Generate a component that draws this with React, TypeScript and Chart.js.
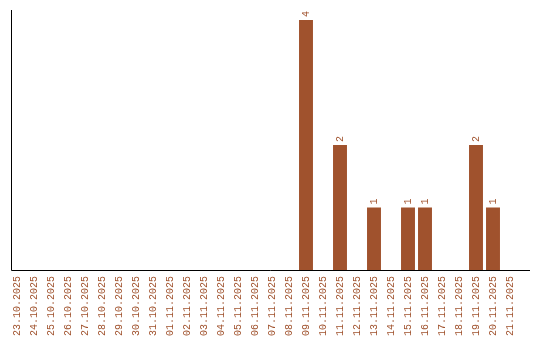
import React, { useEffect, useRef } from "react";
import { Chart, registerables } from "chart.js";

Chart.register(...registerables);

const categories = [
  "23.10.2025", "24.10.2025", "25.10.2025", "26.10.2025", "27.10.2025",
  "28.10.2025", "29.10.2025", "30.10.2025", "31.10.2025", "01.11.2025",
  "02.11.2025", "03.11.2025", "04.11.2025", "05.11.2025", "06.11.2025",
  "07.11.2025", "08.11.2025", "09.11.2025", "10.11.2025", "11.11.2025",
  "12.11.2025", "13.11.2025", "14.11.2025", "15.11.2025", "16.11.2025",
  "17.11.2025", "18.11.2025", "19.11.2025", "20.11.2025", "21.11.2025",
];

const counts = [
  0, 0, 0, 0, 0, 0, 0, 0, 0, 0,
  0, 0, 0, 0, 0, 0, 0, 4, 0, 2,
  0, 1, 0, 1, 1, 0, 0, 2, 1, 0,
];

const BROWN = "#a0522d";
const FONT = "'Liberation Mono', 'DejaVu Sans Mono', monospace";

const axesPlugin = {
  id: "axesLines",
  afterDraw(chart: any) {
    const ctx = chart.ctx;
    const area = chart.chartArea;
    ctx.save();
    ctx.strokeStyle = "#000";
    ctx.lineWidth = 1;
    ctx.beginPath();
    ctx.moveTo(11.5, area.top);
    ctx.lineTo(11.5, area.bottom + 0.5);
    ctx.lineTo(530, area.bottom + 0.5);
    ctx.stroke();
    ctx.restore();
  },
};

const valueLabels = {
  id: "valueLabels",
  afterDatasetsDraw(chart: any) {
    const ctx = chart.ctx;
    const meta = chart.getDatasetMeta(0);
    ctx.save();
    ctx.fillStyle = BROWN;
    ctx.font = `10px ${FONT}`;
    ctx.textAlign = "left";
    ctx.textBaseline = "middle";
    meta.data.forEach((bar: any, i: number) => {
      const v = counts[i];
      if (!v) return;
      ctx.save();
      ctx.translate(bar.x, bar.y - 3);
      ctx.rotate(-Math.PI / 2);
      ctx.fillText(String(v), 0, 0);
      ctx.restore();
    });
    ctx.restore();
  },
};

export default function App() {
  const ref = useRef<HTMLCanvasElement>(null);
  useEffect(() => {
    document.body.style.margin = "0";
    const chart = new Chart(ref.current!, {
      type: "bar",
      data: {
        labels: categories,
        datasets: [
          {
            data: counts,
            backgroundColor: BROWN,
            borderWidth: 0,
            categoryPercentage: 1,
            barPercentage: 0.82,
          },
        ],
      },
      options: {
        animation: false,
        responsive: false,
        layout: { padding: { left: 8.5, right: 21.5, top: 10, bottom: 0 } },
        plugins: { legend: { display: false }, tooltip: { enabled: false } },
        scales: {
          x: {
            grid: { display: false, drawTicks: false },
            border: { display: false },
            afterFit(scale: any) {
              scale.height = 70;
            },
            ticks: {
              autoSkip: false,
              minRotation: 90,
              maxRotation: 90,
              padding: 6,
              color: BROWN,
              font: { family: FONT, size: 10 },
            },
          },
          y: {
            display: false,
            min: 0,
            max: 4.16,
          },
        },
      },
      plugins: [axesPlugin, valueLabels],
    });
    return () => chart.destroy();
  }, []);
  return <canvas ref={ref} width={540} height={340} style={{ display: "block" }} />;
}
